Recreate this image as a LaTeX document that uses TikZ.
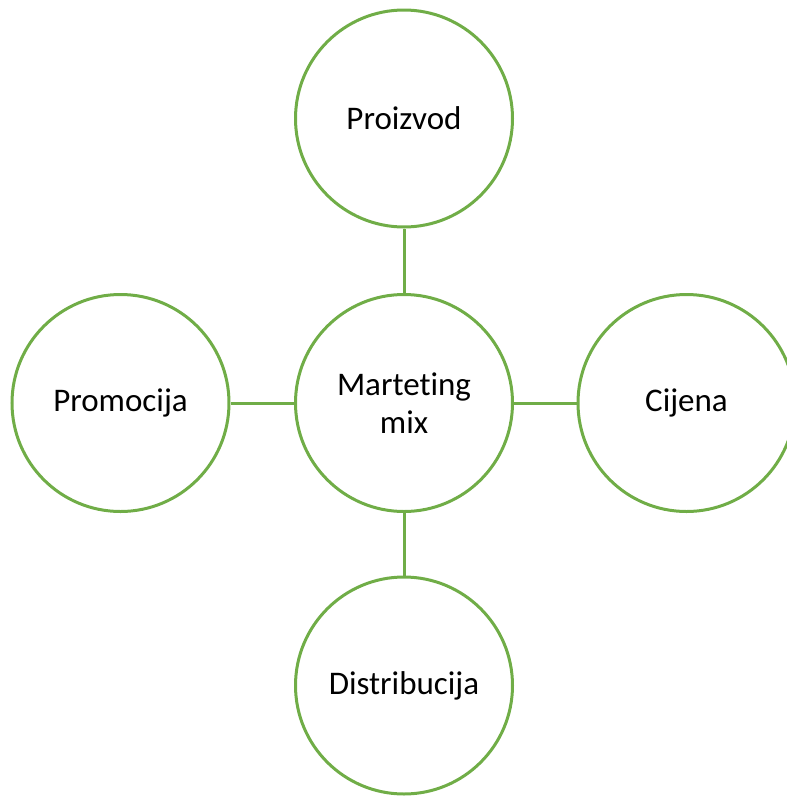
\documentclass[tikz,border=0pt]{standalone}
\usepackage{fontspec}
\setmainfont{Carlito}[Ligatures=NoCommon]
\definecolor{mixgreen}{HTML}{70AD47}
\begin{document}
\begin{tikzpicture}[x=1pt,y=-1pt,
  ball/.style={circle,draw=mixgreen,line width=3pt,minimum size=217pt,inner sep=0pt,align=center,
    font=\fontsize{33}{38}\selectfont},
  link/.style={draw=mixgreen,line width=3pt}]
\useasboundingbox (0,0) rectangle (787,796);
\node[ball] (c) at (404,403) {Marteting\\mix};
\node[ball] (t) at (404,118.5) {Proizvod};
\node[ball] (l) at (120.5,403) {Promocija};
\node[ball] (r) at (686.5,403) {Cijena};
\node[ball] (b) at (404,685.5) {Distribucija};
\draw[link] (c) -- (t);
\draw[link] (c) -- (l);
\draw[link] (c) -- (r);
\draw[link] (c) -- (b);
\end{tikzpicture}
\end{document}
